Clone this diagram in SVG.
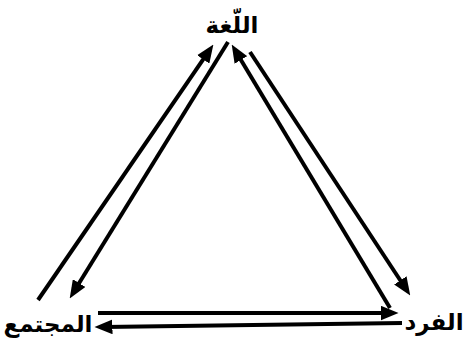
<svg xmlns="http://www.w3.org/2000/svg" width="468" height="347" viewBox="0 0 468 347">
<style>
.lbl{font-family:"DejaVu Sans","Noto Sans",sans-serif;font-weight:bold;font-size:23px;fill:#000;text-anchor:middle}
.conn{stroke:#000;stroke-width:4;fill:none;marker-end:url(#ah)}
</style>
<defs>
<marker id="ah" markerUnits="userSpaceOnUse" markerWidth="18" markerHeight="15" refX="8" refY="7" orient="auto" viewBox="0 0 17 14">
<path d="M0,0 L17,7 L0,14 z" fill="#000"/>
</marker>
</defs>
<rect width="468" height="347" fill="#fff"/>
<g id="connectors">
<line class="conn" x1="38" y1="300" x2="208" y2="52.4"/>
<line class="conn" x1="228" y1="42" x2="74.7" y2="290.3"/>
<line class="conn" x1="390" y1="308" x2="236.6" y2="52.7"/>
<line class="conn" x1="250" y1="52" x2="405" y2="287.5"/>
<line class="conn" x1="98" y1="313" x2="389" y2="313"/>
<line class="conn" x1="402" y1="323" x2="104" y2="326.9"/>
</g>
<g id="language"><text class="lbl" x="232" y="33">اللّغة</text></g>
<g id="society"><text class="lbl" x="48" y="332">المجتمع</text></g>
<g id="individual"><text class="lbl" x="434" y="330">الفرد</text></g>
</svg>
